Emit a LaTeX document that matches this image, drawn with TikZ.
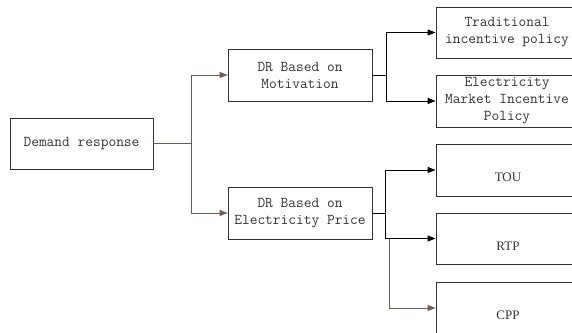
\documentclass[tikz,border=0pt]{standalone}
\usepackage{fontspec}
\newfontfamily\lserif{Liberation Serif}
\usetikzlibrary{arrows.meta}
\definecolor{brownline}{RGB}{112,92,84}
\definecolor{boxline}{RGB}{50,50,50}
\tikzset{
  box/.style={draw=boxline, line width=0.85pt, minimum width=143pt, minimum height=51pt,
    inner sep=0pt, align=center, font=\ttfamily\fontsize{15pt}{17pt}\selectfont, text=black!80},
  bigbox/.style={box, minimum width=142pt},
  conn/.style={draw=black, line width=0.9pt},
  arr/.style={conn, -{Triangle[length=8pt,width=6pt]}},
  bconn/.style={draw=brownline, line width=0.9pt},
  barr/.style={bconn, -{Triangle[length=8pt,width=6pt]}, },
  lowlabel/.style={font=\lserif\fontsize{13pt}{15pt}\selectfont, text=black!80}
}
\begin{document}
\begin{tikzpicture}[x=1pt,y=-1pt]
\useasboundingbox (0,0) rectangle (572,332);
\clip (0,0) rectangle (572,332);
\node[box] (dr) at (81.5,143.5) {Demand response};
\node[box, minimum width=144pt, minimum height=52pt] (mot) at (300,75) {DR Based on\\Motivation};
\node[box, minimum width=144pt, minimum height=52pt] (price) at (300,213) {DR Based on\\Electricity Price};
\node[bigbox] (trad) at (507,32.5) {Traditional\\incentive policy};
\node[bigbox, minimum height=52pt] (emi) at (507,101) {Electricity\\Market Incentive\\Policy};
\node[bigbox, minimum height=52pt] (tou) at (507,170) {};
\node[bigbox] (rtp) at (507,238.5) {};
\node[bigbox, minimum height=52pt] (cpp) at (507,308) {};
\node[lowlabel] (toul) at (508,177) {TOU};
\node[lowlabel] (rtpl) at (508,246.5) {RTP};
\node[lowlabel] (cppl) at (508,315) {CPP};
\coordinate (j1) at (191,143.5);
\coordinate (j2) at (386,75);
\coordinate (j3) at (385,213);
\coordinate (j4) at (389,238.5);
\draw[bconn] (dr.east) -- (j1);
\draw[barr] (j1) |- (mot.west);
\draw[barr] (j1) |- (price.west);
\draw[conn] (mot.east) -- (j2);
\draw[arr] (j2) |- (trad.west);
\draw[arr] (j2) |- (emi.west);
\draw[conn] (price.east) -- (j3);
\draw[arr] (j3) |- (tou.west);
\draw[arr] (j3) |- (rtp.west);
\draw[barr] (j4) |- (cpp.west);
\end{tikzpicture}
\end{document}
